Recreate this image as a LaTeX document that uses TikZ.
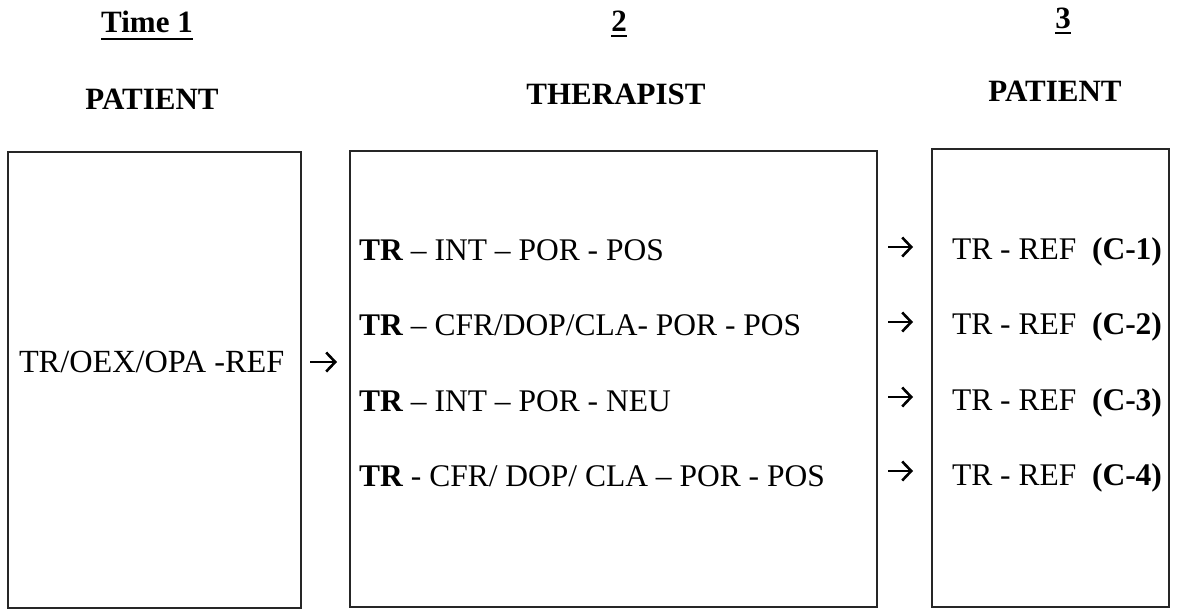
\documentclass[tikz,border=0pt]{standalone}
\usepackage{fontspec}
\setmainfont{Liberation Serif}
\usetikzlibrary{arrows.meta}
\begin{document}
\begin{tikzpicture}[x=1pt,y=-1pt,
  every node/.style={inner sep=0pt, outer sep=0pt},
  body/.style={anchor=base west, font=\fontsize{31.5}{38}\selectfont},
  hd/.style={anchor=base, font=\fontsize{31}{37}\selectfont\bfseries},
  panel/.style={draw=black!85, line width=1.2pt, anchor=north west},
  arr/.style={line width=2.6pt, -{Straight Barb[length=9pt,width=19pt,line width=2.6pt]}},
  uline/.style={line width=2.5pt}]
\useasboundingbox (0,0) rectangle (1177,611);

% headings
\node[hd] (h1) at (147,32) {Time 1};
\node[hd] (h2) at (619,31) {2};
\node[hd] (h3) at (1063,28) {3};
\draw[uline] ([yshift=-7pt]h1.base west) -- ([yshift=-7pt]h1.base east);
\draw[uline] ([yshift=-5pt]h2.base west) -- ([yshift=-5pt]h2.base east);
\draw[uline] ([yshift=-5pt]h3.base west) -- ([yshift=-5pt]h3.base east);
\node[hd] (r1) at (152,109) {PATIENT};
\node[hd] (r2) at (616,104) {THERAPIST};
\node[hd] (r3) at (1055,101) {PATIENT};

% panels
\node[panel, minimum width=293pt, minimum height=456pt] (b1) at (8,152) {};
\node[panel, minimum width=527pt, minimum height=456pt] (b2) at (350,151) {};
\node[panel, minimum width=237pt, minimum height=458pt] (b3) at (932,149) {};

% texts
\node[body, font=\fontsize{32.3}{38}\selectfont] (t0) at (19,372) {TR/OEX/OPA -REF};

\node[body] (s1) at (359,260) {\textbf{TR} – INT – POR - POS};
\node[body] (s2) at (359,335) {\textbf{TR} – CFR/DOP/CLA- POR - POS};
\node[body] (s3) at (359,411) {\textbf{TR} – INT – POR - NEU};
\node[body] (s4) at (359,486) {\textbf{TR} - CFR/ DOP/ CLA – POR - POS};

\node[body] (c1) at (952,259) {TR - REF\ \ \textbf{(C-1)}};
\node[body] (c2) at (952,334) {TR - REF\ \ \textbf{(C-2)}};
\node[body] (c3) at (952,410) {TR - REF\ \ \textbf{(C-3)}};
\node[body] (c4) at (952,485) {TR - REF\ \ \textbf{(C-4)}};

% arrows
\coordinate (y0) at (0,362);
\coordinate (y1) at (0,247);
\coordinate (y2) at (0,322);
\coordinate (y3) at (0,397);
\coordinate (y4) at (0,471);
\draw[arr, shorten <=9pt, shorten >=13pt] (b1.east |- y0) -- (b2.west |- y0);
\foreach \k in {1,2,3,4}{
  \draw[arr, shorten <=11pt, shorten >=19pt] (b2.east |- y\k) -- (b3.west |- y\k);
}
\end{tikzpicture}
\end{document}
